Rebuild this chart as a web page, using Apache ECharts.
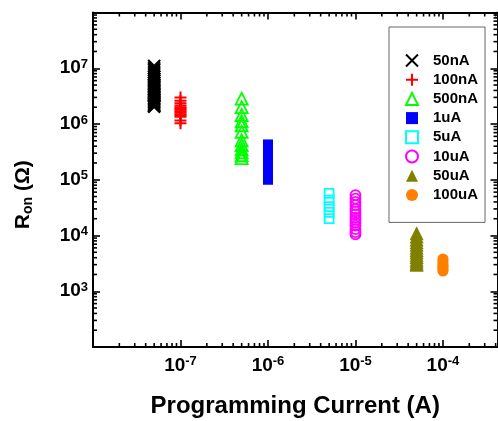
<!DOCTYPE html>
<html>
<head>
<meta charset="utf-8">
<script src="https://cdn.jsdelivr.net/npm/echarts@6/dist/echarts.min.js"></script>
<style>
  html, body { margin: 0; padding: 0; background: #fff; }
  #chart { width: 498px; height: 421px; }
</style>
</head>
<body>
<div id="chart"></div>
<script>
// Programming current (A) used for each group of devices
const currents = [5e-8, 1e-7, 5e-7, 1e-6, 5e-6, 1e-5, 5e-5, 1e-4];
const groupNames = ['50nA', '100nA', '500nA', '1uA', '5uA', '10uA', '50uA', '100uA'];

// Measured ON resistance (Ohm) for each programming current
const ron50nA = [1.1e7, 1.0e7, 9.3e6, 8.5e6, 7.8e6, 7.1e6, 6.5e6, 6.0e6, 5.5e6, 5.1e6, 4.8e6, 4.5e6, 4.2e6,
                 3.9e6, 3.7e6, 3.5e6, 3.3e6, 3.1e6, 2.9e6, 2.75e6, 2.6e6, 2.45e6, 2.3e6, 2.2e6, 2.1e6, 2.05e6];
const ron100nA = [3.0e6, 2.6e6, 2.35e6, 2.15e6, 2.0e6, 1.9e6, 1.8e6, 1.7e6, 1.6e6, 1.5e6, 1.42e6, 1.35e6, 1.16e6, 1.03e6];
const ron500nA = [2.85e6, 2.0e6, 1.45e6, 1.12e6, 9.5e5, 7.2e5, 5.1e5, 4.2e5, 3.5e5, 3.1e5, 2.75e5, 2.45e5];
const ron1uA = [4.3e5, 3.6e5, 3.0e5, 2.5e5, 2.1e5, 1.8e5, 1.55e5, 1.35e5, 1.18e5, 1.0e5];
const ron5uA = [5.7e4, 4.3e4, 3.3e4, 2.6e4, 2.0e4];
const ron10uA = [5.3e4, 4.6e4, 4.0e4, 3.5e4, 3.0e4, 2.7e4, 2.4e4, 2.1e4, 1.9e4, 1.7e4, 1.5e4, 1.3e4, 1.15e4, 1.05e4];
const ron50uA = [1.1e4, 9.6e3, 8.5e3, 7.6e3, 6.8e3, 6.1e3, 5.5e3, 5.0e3, 4.5e3, 4.1e3, 3.7e3, 3.4e3, 3.15e3, 3.0e3];
const ron100uA = [3.8e3, 3.5e3, 3.2e3, 3.0e3, 2.8e3, 2.6e3, 2.45e3, 2.3e3];
const ronGroups = [ron50nA, ron100nA, ron500nA, ron1uA, ron5uA, ron10uA, ron50uA, ron100uA];

// Axis ranges (log scale) and minor tick multipliers
const xRange = [1e-8, 4.2e-4];
const yRange = [1e2, 1e8];
const minorMultipliers = [2, 3, 4, 5, 6, 7, 8, 9];

const FONT = '"Liberation Sans", Arial, Helvetica, sans-serif';

// Marker look for each group
const markerStyles = [
  { symbol: 'path://M0,0L10,10M10,0L0,10', size: 12, fill: 'rgba(0,0,0,0)', stroke: '#000000', width: 2.2 },
  { symbol: 'path://M5,0L5,10M0,5L10,5', size: 12, fill: 'rgba(0,0,0,0)', stroke: '#ff0000', width: 2 },
  { symbol: 'triangle', size: 12, fill: 'rgba(0,0,0,0)', stroke: '#00ff00', width: 1.8 },
  { symbol: 'rect', size: 10, fill: '#0000ff', stroke: '#0000ff', width: 0 },
  { symbol: 'rect', size: 9, fill: 'rgba(0,0,0,0)', stroke: '#00ffff', width: 1.8 },
  { symbol: 'circle', size: 10, fill: 'rgba(0,0,0,0)', stroke: '#ff00ff', width: 1.8 },
  { symbol: 'triangle', size: 14, fill: '#808000', stroke: '#808000', width: 0 },
  { symbol: 'circle', size: 11, fill: '#ff8000', stroke: '#ff8000', width: 0 }
];

function isDecade(v) {
  const l = Math.log10(v);
  return Math.abs(l - Math.round(l)) < 1e-6;
}

function powerLabel(v) {
  if (!isDecade(v)) return '';
  return '{b|10}{e|' + Math.round(Math.log10(v)) + '}';
}

const labelRich = {
  b: { fontFamily: FONT, fontSize: 19, fontWeight: 'bold', color: '#000', lineHeight: 21 },
  e: { fontFamily: FONT, fontSize: 13, fontWeight: 'bold', color: '#000', verticalAlign: 'top', lineHeight: 21 }
};

// Minor tick values at 2..9 x 10^n inside each axis range
function minorTicks(range) {
  const out = [];
  const lo = Math.floor(Math.log10(range[0]));
  const hi = Math.ceil(Math.log10(range[1]));
  for (let d = lo; d < hi; d++) {
    minorMultipliers.forEach(function (m) {
      const v = m * Math.pow(10, d);
      if (v > range[0] && v < range[1]) out.push(v);
    });
  }
  return out;
}

const minorData = []
  .concat(minorTicks(xRange).map(function (v) { return [v, 1e4, 0]; }))
  .concat(minorTicks(yRange).map(function (v) { return [1e-6, v, 1]; }));

const MINOR_LEN = 4;
const MAJOR_LEN = 7;

function baseAxis(type, position, range, showLabels) {
  return {
    type: 'log',
    logBase: 10,
    position: position,
    min: range[0],
    max: range[1],
    splitLine: { show: false },
    axisLine: { show: true, onZero: false, lineStyle: { color: '#000', width: 2 } },
    axisTick: { show: true, inside: true, length: MAJOR_LEN, lineStyle: { color: '#000', width: 1.6 } },
    minorTick: { show: false },
    axisLabel: showLabels ? {
      show: true,
      formatter: powerLabel,
      rich: labelRich,
      showMinLabel: false,
      showMaxLabel: false,
      margin: type === 'x' ? 8 : 5
    } : { show: false }
  };
}

const xBottom = baseAxis('x', 'bottom', xRange, true);
xBottom.name = 'Programming Current (A)';
xBottom.nameLocation = 'middle';
xBottom.nameGap = 47;
xBottom.nameTextStyle = { fontFamily: FONT, fontSize: 24, fontWeight: 'bold', color: '#000' };

const yLeft = baseAxis('y', 'left', yRange, true);
yLeft.name = '{r|R}{s|on}{r| (Ω)}';
yLeft.nameLocation = 'middle';
yLeft.nameRotate = 90;
yLeft.nameGap = 58;
yLeft.nameTextStyle = {
  padding: [0, 30, 0, 0],
  rich: {
    r: { fontFamily: FONT, fontSize: 21, fontWeight: 'bold', color: '#000', lineHeight: 24 },
    s: { fontFamily: FONT, fontSize: 14, fontWeight: 'bold', color: '#000', verticalAlign: 'bottom', lineHeight: 24 }
  }
};

const xTop = baseAxis('x', 'top', xRange, false);
const yRight = baseAxis('y', 'right', yRange, false);

const scatterSeries = groupNames.map(function (name, i) {
  const st = markerStyles[i];
  return {
    name: name,
    type: 'scatter',
    xAxisIndex: 0,
    yAxisIndex: 0,
    symbol: st.symbol,
    symbolSize: st.size,
    data: ronGroups[i].map(function (r) { return [currents[i], r]; }),
    itemStyle: { color: st.fill, borderColor: st.stroke, borderWidth: st.width, opacity: 1 },
    emphasis: { disabled: true },
    z: 3
  };
});

// Minor ticks drawn on all four sides of the plot frame
const minorTickSeries = {
  type: 'custom',
  name: 'minor-ticks',
  xAxisIndex: 0,
  yAxisIndex: 0,
  silent: true,
  z: 4,
  data: minorData,
  renderItem: function (params, api) {
    const cs = params.coordSys;
    const kind = api.value(2);
    const style = { stroke: '#000', lineWidth: 1.6 };
    if (kind === 0) {
      const px = api.coord([api.value(0), api.value(1)])[0];
      const yb = cs.y + cs.height, yt = cs.y;
      return { type: 'group', children: [
        { type: 'line', shape: { x1: px, y1: yb, x2: px, y2: yb - MINOR_LEN }, style: style },
        { type: 'line', shape: { x1: px, y1: yt, x2: px, y2: yt + MINOR_LEN }, style: style }
      ] };
    }
    const py = api.coord([api.value(0), api.value(1)])[1];
    const xl = cs.x, xr = cs.x + cs.width;
    return { type: 'group', children: [
      { type: 'line', shape: { x1: xl, y1: py, x2: xl + MINOR_LEN, y2: py }, style: style },
      { type: 'line', shape: { x1: xr, y1: py, x2: xr - MINOR_LEN, y2: py }, style: style }
    ] };
  }
};

const chart = echarts.init(document.getElementById('chart'), null, { renderer: 'canvas' });
chart.setOption({
  animation: false,
  backgroundColor: '#ffffff',
  grid: { left: 93, right: 0.5, top: 12.5, bottom: 74, containLabel: false, outerBoundsMode: 'none' },
  xAxis: [xBottom, xTop],
  yAxis: [yLeft, yRight],
  legend: {
    show: true,
    data: groupNames,
    orient: 'vertical',
    left: 389,
    top: 27,
    padding: [26, 7, 20, 16],
    itemWidth: 12,
    itemHeight: 12,
    itemGap: 4.2,
    backgroundColor: '#ffffff',
    borderColor: '#666666',
    borderWidth: 1,
    borderRadius: 0,
    selectedMode: false,
    textStyle: { fontFamily: FONT, fontSize: 15, fontWeight: 'bold', color: '#000', lineHeight: 15, padding: [0, 0, 0, 10] }
  },
  series: scatterSeries.concat([minorTickSeries])
});
</script>
</body>
</html>
